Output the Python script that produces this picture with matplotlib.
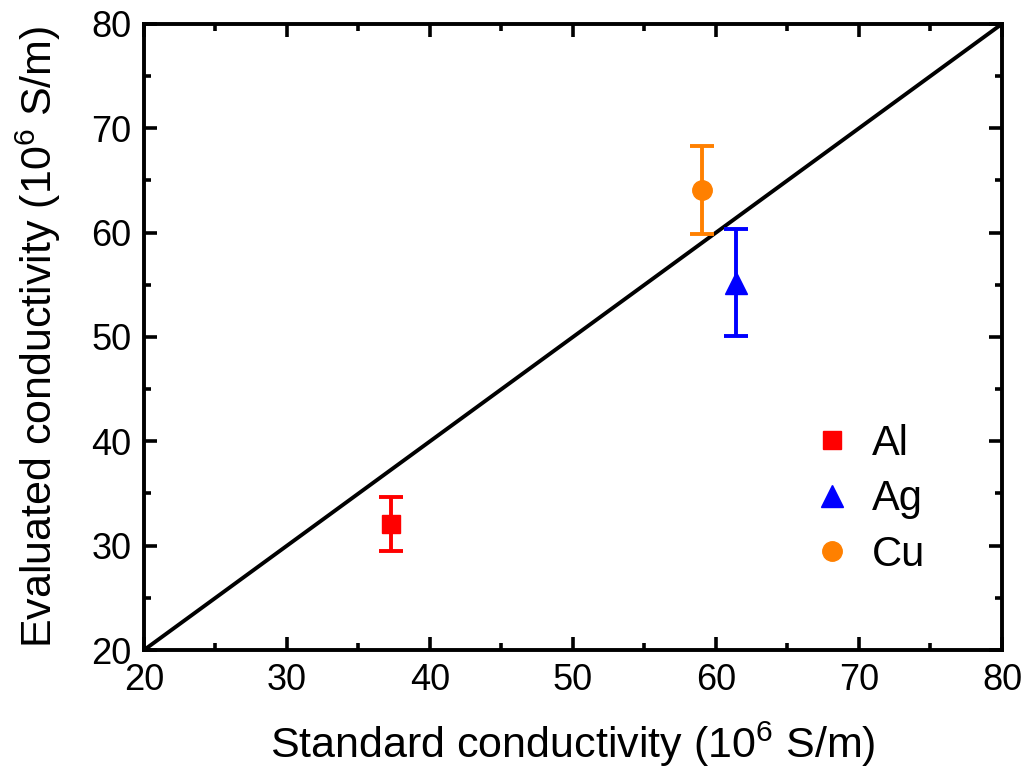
import matplotlib
matplotlib.use("Agg")
import matplotlib.pyplot as plt
from matplotlib.ticker import MultipleLocator

plt.rcParams['font.family'] = ['Liberation Sans', 'DejaVu Sans']
plt.rcParams['mathtext.default'] = 'regular'

# standard vs evaluated conductivity (10^6 S/m)
metales = ['Al', 'Ag', 'Cu']
estandar = [37.3, 61.4, 59.0]
evaluada = [32.1, 55.2, 64.1]
error = [2.6, 5.1, 4.2]
colores = ['#ff0000', '#0000ff', '#ff8000']
marcadores = ['s', '^', 'o']
tamanos = [13, 16, 14]

diagonal = [20, 80]

fig = plt.figure(figsize=(10.3, 7.73), dpi=100)
ax = fig.add_axes([0.1398, 0.1591, 0.833, 0.810])

ax.plot(diagonal, diagonal, color='black', linewidth=2.8, zorder=1)

for nombre, x, y, e, c, m, s in zip(metales, estandar, evaluada, error, colores, marcadores, tamanos):
    ax.errorbar(x, y, yerr=e, color=c, marker=m, markersize=s, linestyle='none',
                elinewidth=2.8, capsize=8.5, capthick=2.8, label=nombre, zorder=3)

ax.set_xlim(20, 80)
ax.set_ylim(20, 80)
ax.xaxis.set_major_locator(MultipleLocator(10))
ax.xaxis.set_minor_locator(MultipleLocator(5))
ax.yaxis.set_major_locator(MultipleLocator(10))
ax.yaxis.set_minor_locator(MultipleLocator(5))
ax.tick_params(which='both', direction='in', top=True, right=True, width=2.6, labelsize=26, pad=9)
ax.tick_params(which='major', length=9.5)
ax.tick_params(which='minor', length=5)
for lado in ax.spines.values():
    lado.set_linewidth(2.8)

ax.set_xlabel("Standard conductivity (10$^{6}$ S/m)", fontsize=31, labelpad=16)
ax.set_ylabel("Evaluated conductivity (10$^{6}$ S/m)", fontsize=31, labelpad=20)

handles, labels = ax.get_legend_handles_labels()
handles = [h[0] for h in handles]
ax.legend(handles, labels, loc='upper left', bbox_to_anchor=(0.758, 0.388), frameon=False,
          fontsize=30, handletextpad=0.45, labelspacing=0.37, handlelength=1.0,
          borderaxespad=0.0)

fig.savefig("out.png", dpi=100)
